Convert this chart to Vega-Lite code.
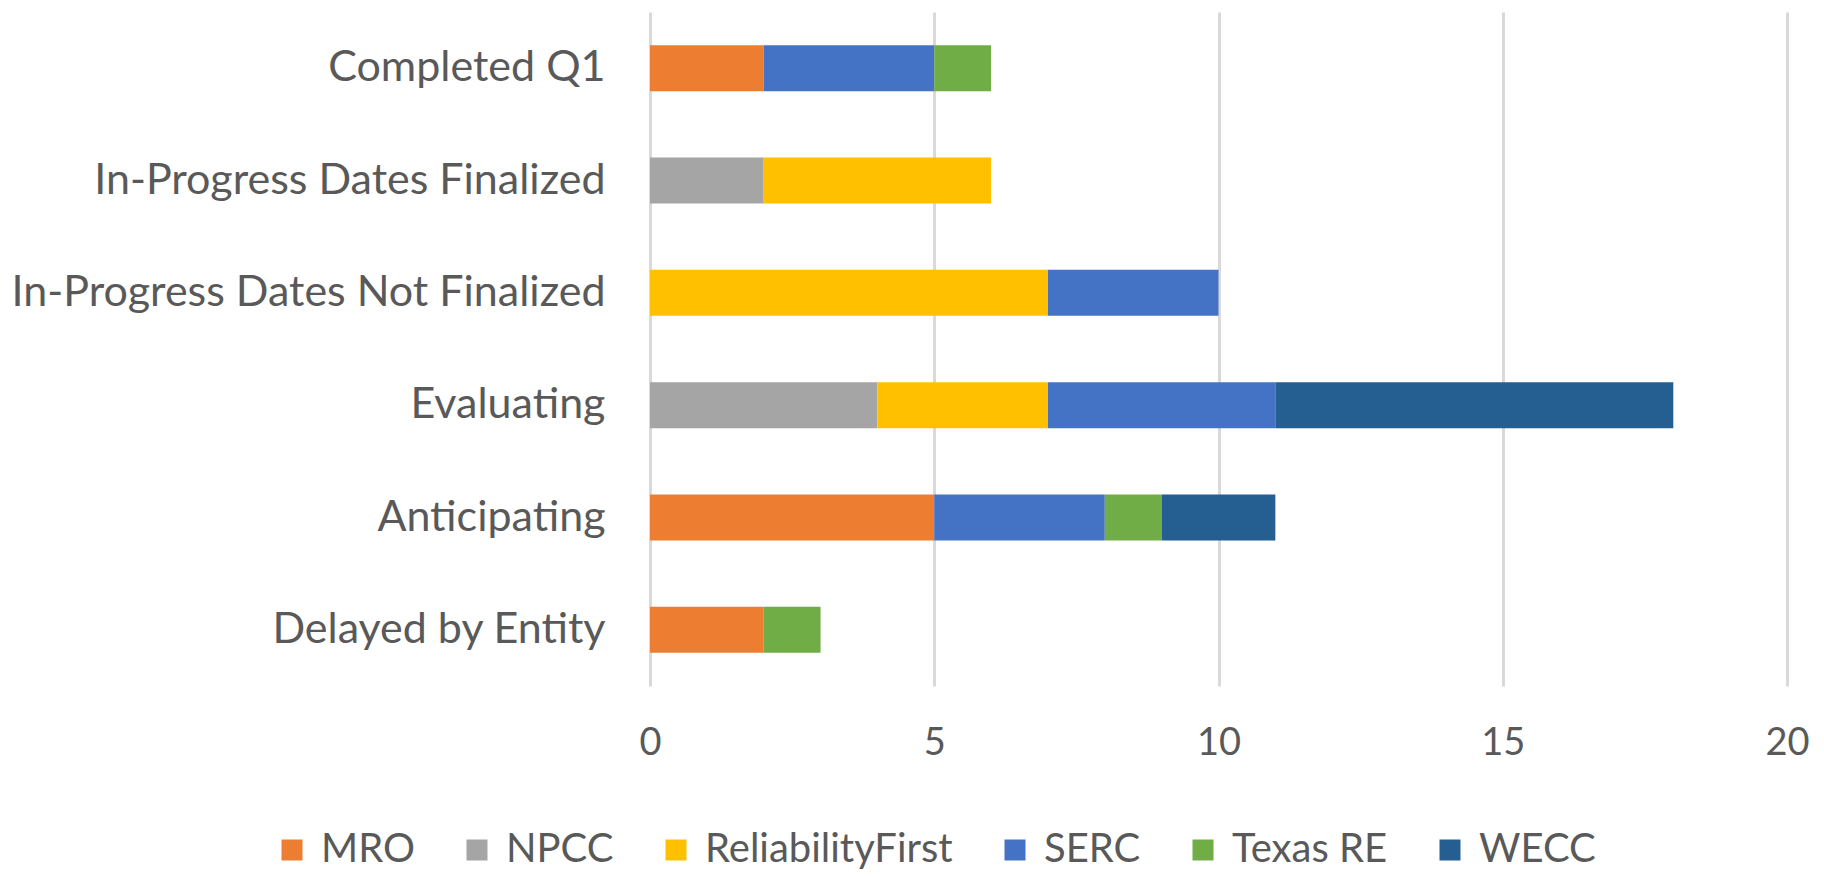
{
  "$schema": "https://vega.github.io/schema/vega-lite/v6.json",
  "width": 1137,
  "height": 674,
  "autosize": "none",
  "padding": {"left": 650, "top": 12, "right": 37, "bottom": 191},
  "background": "white",
  "config": {"view": {"stroke": null}, "font": "Lato"},
  "data": {"values": [
    {"status": "Completed Q1", "region": "MRO", "count": 2},
    {"status": "Completed Q1", "region": "SERC", "count": 3},
    {"status": "Completed Q1", "region": "Texas RE", "count": 1},
    {"status": "In-Progress Dates Finalized", "region": "NPCC", "count": 2},
    {"status": "In-Progress Dates Finalized", "region": "ReliabilityFirst", "count": 4},
    {"status": "In-Progress Dates Not Finalized", "region": "ReliabilityFirst", "count": 7},
    {"status": "In-Progress Dates Not Finalized", "region": "SERC", "count": 3},
    {"status": "Evaluating", "region": "NPCC", "count": 4},
    {"status": "Evaluating", "region": "ReliabilityFirst", "count": 3},
    {"status": "Evaluating", "region": "SERC", "count": 4},
    {"status": "Evaluating", "region": "WECC", "count": 7},
    {"status": "Anticipating", "region": "MRO", "count": 5},
    {"status": "Anticipating", "region": "SERC", "count": 3},
    {"status": "Anticipating", "region": "Texas RE", "count": 1},
    {"status": "Anticipating", "region": "WECC", "count": 2},
    {"status": "Delayed by Entity", "region": "MRO", "count": 2},
    {"status": "Delayed by Entity", "region": "Texas RE", "count": 1}
  ]},
  "mark": {"type": "bar"},
  "encoding": {
    "y": {
      "field": "status", "type": "nominal",
      "sort": ["Completed Q1", "In-Progress Dates Finalized", "In-Progress Dates Not Finalized", "Evaluating", "Anticipating", "Delayed by Entity"],
      "scale": {"paddingInner": 0.59, "paddingOuter": 0.295},
      "axis": {"title": null, "domain": false, "ticks": false, "labelFontSize": 43, "labelColor": "#595959", "labelPadding": 45, "labelLimit": 700}
    },
    "x": {
      "field": "count", "type": "quantitative", "aggregate": "sum", "stack": "zero",
      "scale": {"domain": [0, 20], "nice": false},
      "axis": {"title": null, "domain": false, "ticks": false, "values": [0, 5, 10, 15, 20], "grid": true, "gridColor": "#d9d9d9", "gridWidth": 3, "labelFontSize": 38, "labelColor": "#595959", "labelPadding": 38, "labelFlush": false}
    },
    "color": {
      "field": "region", "type": "nominal",
      "scale": {"domain": ["MRO", "NPCC", "ReliabilityFirst", "SERC", "Texas RE", "WECC"], "range": ["#ED7D31", "#A5A5A5", "#FFC000", "#4472C4", "#70AD47", "#255E91"]},
      "legend": {"title": null, "orient": "none", "direction": "horizontal", "columns": 6, "legendX": -378, "legendY": 818, "symbolType": "square", "symbolSize": 441, "symbolStrokeWidth": 0, "labelFontSize": 40, "labelColor": "#595959", "labelOffset": 9, "labelLimit": 500, "columnPadding": 42}
    },
    "order": {"field": "region", "sort": "ascending"}
  }
}
